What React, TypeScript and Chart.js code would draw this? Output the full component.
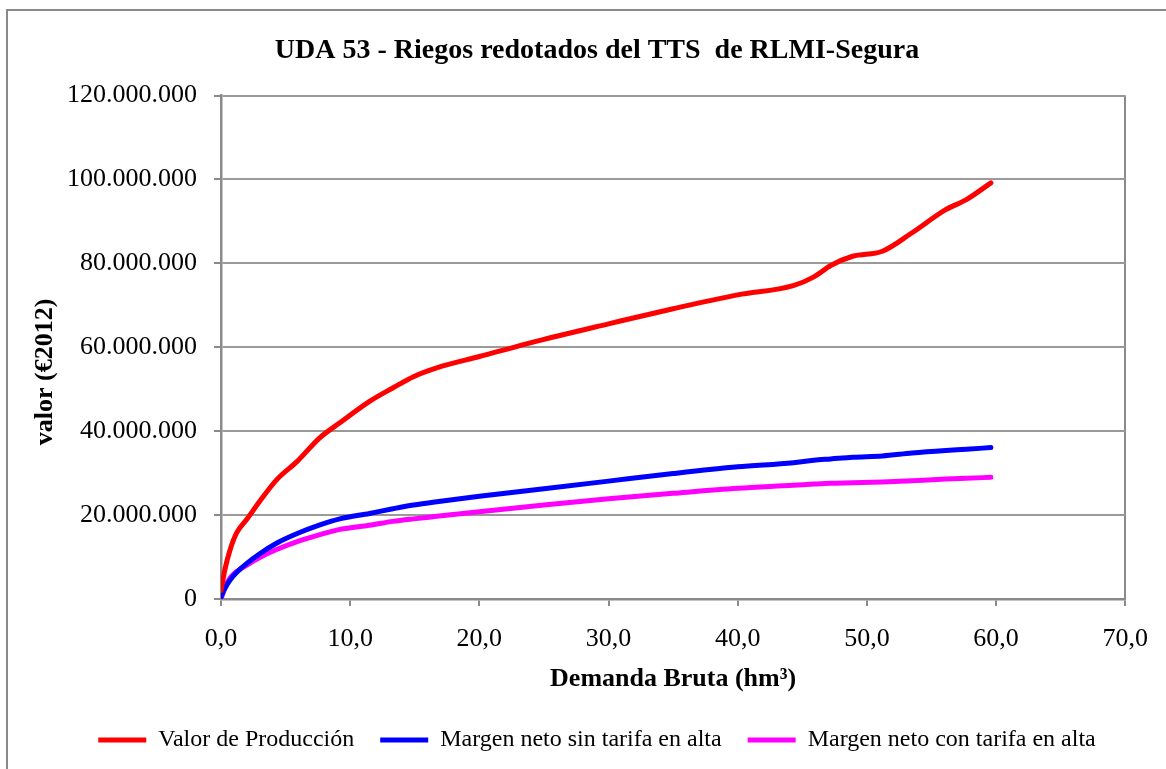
import React, { useEffect, useRef } from "react";
import { Chart, registerables } from "chart.js";

Chart.register(...registerables);

const TITLE = "UDA 53 - Riegos redotados del TTS  de RLMI-Segura";
const X_TITLE = "Demanda Bruta (hm³)";
const Y_TITLE = "valor (€2012)";

// Demanda bruta (hm³)
const demanda = [0, 0.3, 0.7, 1.2, 2.0, 3.0, 4.3, 5.9, 7.6, 9.2, 11.5, 13.3, 14.9, 16.7, 20, 25, 30, 35, 40, 44.3, 45.9, 47.2, 48.9, 51.2, 53.5, 56.1, 57.7, 59.6];
// Valor de Producción (millones de €)
const valorProduccion = [2.0, 7.0, 11.7, 15.7, 19.0, 23.3, 28.4, 32.8, 38.3, 42.0, 47.1, 50.3, 53.0, 55.1, 57.8, 61.9, 65.6, 69.2, 72.5, 74.7, 76.8, 79.5, 81.7, 82.9, 87.3, 92.8, 95.2, 99.2];
// Margen neto sin tarifa en alta (millones de €)
const margenSinTarifa = [0.5, 2.5, 4.5, 6.3, 8.5, 10.8, 13.3, 15.6, 17.6, 19.1, 20.4, 21.5, 22.4, 23.2, 24.5, 26.3, 28.1, 29.9, 31.5, 32.5, 33.1, 33.4, 33.8, 34.1, 34.8, 35.4, 35.7, 36.1];
// Margen neto con tarifa en alta (millones de €)
const margenConTarifa = [0, 2.8, 5.0, 6.5, 8.1, 9.9, 11.8, 13.7, 15.3, 16.6, 17.6, 18.5, 19.1, 19.7, 20.8, 22.4, 23.9, 25.2, 26.4, 27.1, 27.4, 27.6, 27.7, 27.9, 28.2, 28.6, 28.8, 29.0];

const seriesNames = ["Valor de Producción", "Margen neto sin tarifa en alta", "Margen neto con tarifa en alta"];
const seriesColors = ["#FF0000", "#0000FF", "#FF00FF"];

const FONT = "'Liberation Serif', 'Times New Roman', serif";

function fmtThousands(v: number): string {
  const s = Math.round(v).toString();
  return s.replace(/\B(?=(\d{3})+(?!\d))/g, ".");
}

const decorPlugin = {
  id: "decor",
  beforeDraw(chart: any) {
    const ctx = chart.ctx;
    ctx.save();
    ctx.fillStyle = "#ffffff";
    ctx.fillRect(0, 0, chart.width, chart.height);
    ctx.strokeStyle = "#8a8a8a";
    ctx.lineWidth = 2;
    ctx.strokeRect(7, 10, chart.width + 20, chart.height + 20);
    ctx.restore();
  },
  afterDraw(chart: any) {
    const ctx = chart.ctx;
    ctx.save();
    ctx.translate(45, 372);
    ctx.rotate(-Math.PI / 2);
    ctx.font = `bold 26px ${FONT}`;
    ctx.fillStyle = "#000";
    ctx.textAlign = "center";
    ctx.textBaseline = "middle";
    ctx.fillText(Y_TITLE, 0, 0);
    ctx.restore();
  },
};

export default function App() {
  const ref = useRef<HTMLCanvasElement | null>(null);

  useEffect(() => {
    if (!ref.current) return;
    const mk = (vals: number[]) => demanda.map((x, i) => ({ x, y: vals[i] * 1e6 }));
    const all = [valorProduccion, margenSinTarifa, margenConTarifa];
    const chart = new Chart(ref.current, {
      type: "line",
      data: {
        datasets: all.map((vals, i) => ({
          label: seriesNames[i],
          data: mk(vals),
          borderColor: seriesColors[i],
          backgroundColor: seriesColors[i],
          borderWidth: 5,
          borderCapStyle: "round" as const,
          borderJoinStyle: "round" as const,
          pointRadius: 0,
          cubicInterpolationMode: "monotone" as const,
          fill: false,
          yAxisID: "y",
        })),
      },
      options: {
        animation: false,
        responsive: false,
        devicePixelRatio: 1,
        layout: { padding: { left: 45, right: 17, top: 0, bottom: 7 } },
        plugins: {
          title: {
            display: true,
            text: TITLE,
            color: "#000",
            font: { family: FONT, size: 28, weight: "bold" },
            padding: { top: 34, bottom: 28 },
          },
          legend: {
            position: "bottom",
            labels: {
              color: "#000",
              font: { family: FONT, size: 24 },
              padding: 26,
              usePointStyle: true,
              pointStyle: "line",
              pointStyleWidth: 48,
            },
          },
          tooltip: { enabled: false },
        },
        scales: {
          x: {
            type: "linear",
            min: 0,
            max: 70,
            afterFit: (s: any) => {
              s.height = 103;
            },
            ticks: {
              stepSize: 10,
              padding: 18,
              color: "#000",
              font: { family: FONT, size: 26 },
              callback: (v: any) => Number(v).toFixed(1).replace(".", ","),
              maxRotation: 0,
            },
            grid: {
              color: (c: any) => (c.index === 7 ? "#8a8a8a" : "rgba(0,0,0,0)"),
              lineWidth: 2,
              tickColor: "#8a8a8a",
              tickLength: 7,
            },
            border: { color: "#8a8a8a", width: 2.5 },
            title: {
              display: true,
              text: X_TITLE,
              color: "#000",
              font: { family: FONT, size: 26, weight: "bold" },
              padding: { top: 4, bottom: 7 },
            },
          },
          y: {
            type: "linear",
            position: "left",
            min: 0,
            max: 120000000,
            afterFit: (s: any) => {
              s.width = 176;
            },
            ticks: {
              stepSize: 20000000,
              padding: 17,
              color: "#000",
              font: { family: FONT, size: 26 },
              callback: (v: any) => fmtThousands(Number(v)),
            },
            grid: {
              color: "#9a9a9a",
              lineWidth: 2,
              tickColor: "#8a8a8a",
              tickLength: 7,
            },
            border: { color: "#8a8a8a", width: 2.5 },
            title: { display: false },
          },
          yRight: {
            type: "linear",
            position: "right",
            min: 0,
            max: 120000000,
            afterFit: (s: any) => {
              s.width = 23;
            },
            ticks: { display: false },
            grid: { display: false, drawTicks: false },
            border: { display: false },
            title: { display: false },
          },
        },
      },
      plugins: [decorPlugin],
    } as any);
    return () => chart.destroy();
  }, []);

  return (
    <div style={{ position: "absolute", left: 0, top: 0, width: 1166, height: 769, background: "#fff" }}>
      <canvas ref={ref} width={1166} height={769} style={{ display: "block" }} />
    </div>
  );
}
